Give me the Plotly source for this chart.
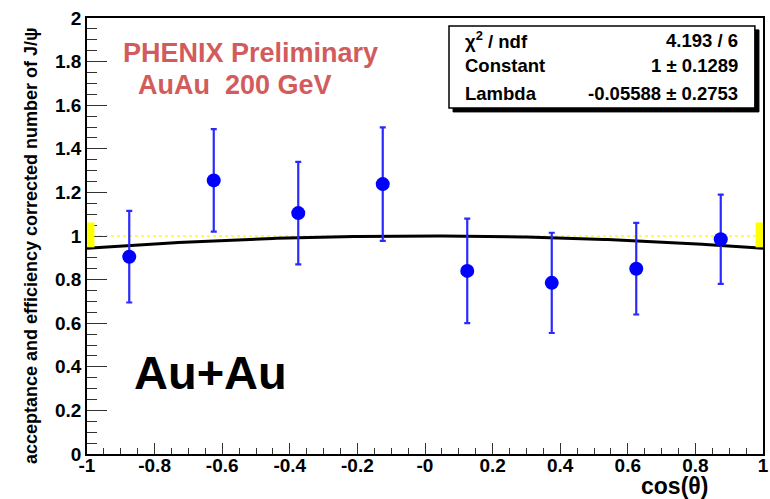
import numpy as np
import plotly.graph_objects as go

# ---- data ----
cos_theta = [-0.875, -0.625, -0.375, -0.125, 0.125, 0.375, 0.625, 0.875]
counts = [0.905, 1.255, 1.105, 1.238, 0.840, 0.785, 0.850, 0.985]
errors = [0.210, 0.235, 0.235, 0.260, 0.240, 0.230, 0.210, 0.205]

fit_constant = 1.0
fit_lambda = -0.05588
norm_band = [0.948, 1.062]  # normalisation uncertainty box (y range)

x_tickvals = [-1, -0.8, -0.6, -0.4, -0.2, 0, 0.2, 0.4, 0.6, 0.8, 1]
x_ticktext = ["-1", "-0.8", "-0.6", "-0.4", "-0.2", "-0", "0.2", "0.4", "0.6", "0.8", "1"]
y_tickvals = [0, 0.2, 0.4, 0.6, 0.8, 1, 1.2, 1.4, 1.6, 1.8, 2]
y_ticktext = ["0", "0.2", "0.4", "0.6", "0.8", "1", "1.2", "1.4", "1.6", "1.8", "2"]

stats_labels = ["χ<sup>2</sup> / ndf", "Constant", "Lambda"]
stats_values = ["4.193 / 6", "1 ± 0.1289", "-0.05588 ± 0.2753"]

FONT = "Liberation Sans, Arial, Helvetica, sans-serif"

fig = go.Figure()

# yellow dotted reference line at 1
fig.add_trace(go.Scatter(x=[-1, 1], y=[1, 1], mode="lines",
                         line=dict(color="#ffff00", width=1.5, dash="dot"),
                         hoverinfo="skip", showlegend=False))

# fit curve C*(1+lambda*x^2)
xf = np.linspace(-1, 1, 201)
yf = fit_constant * (1 + fit_lambda * xf ** 2)
fig.add_trace(go.Scatter(x=xf, y=yf, mode="lines",
                         line=dict(color="black", width=3),
                         hoverinfo="skip", showlegend=False))

# data points
fig.add_trace(go.Scatter(x=cos_theta, y=counts, mode="markers",
                         marker=dict(color="#0000ff", size=14, symbol="circle"),
                         error_y=dict(type="data", array=errors, color="#2a2aff",
                                      thickness=2.2, width=3),
                         showlegend=False))

# normalisation boxes at both edges
for x0, x1 in [(-1, -0.978), (0.978, 1)]:
    fig.add_shape(type="rect", xref="x", yref="y", x0=x0, x1=x1,
                  y0=norm_band[0], y1=norm_band[1],
                  fillcolor="#ffff00", line=dict(width=0), layer="above")

# stats box with shadow
bx0, bx1, by0, by1 = 0.5355, 0.988, 0.7936, 0.9817
fig.add_shape(type="rect", xref="paper", yref="paper",
              x0=bx0 + 0.006, x1=bx1 + 0.006, y0=by0 - 0.009, y1=by1 - 0.009,
              fillcolor="black", line=dict(color="black", width=1))
fig.add_shape(type="rect", xref="paper", yref="paper",
              x0=bx0, x1=bx1, y0=by0, y1=by1,
              fillcolor="white", line=dict(color="black", width=1.5))

row_y = [0.9495, 0.8922, 0.8257]
for lab, val, yy in zip(stats_labels, stats_values, row_y):
    fig.add_annotation(x=0.556, y=yy, xref="paper", yref="paper", text="<b>" + lab + "</b>",
                       showarrow=False, xanchor="left", yanchor="middle",
                       font=dict(family=FONT, size=18.5, color="black"))
    fig.add_annotation(x=0.966, y=yy, xref="paper", yref="paper", text="<b>" + val + "</b>",
                       showarrow=False, xanchor="right", yanchor="middle",
                       font=dict(family=FONT, size=18.5, color="black"))

# text labels
fig.add_annotation(x=0.051, y=0.9197, xref="paper", yref="paper",
                   text="<b>PHENIX Preliminary</b>", showarrow=False,
                   xanchor="left", yanchor="middle",
                   font=dict(family=FONT, size=27, color="#d25c5c"))
fig.add_annotation(x=0.073, y=0.846, xref="paper", yref="paper",
                   text="<b>AuAu  200 GeV</b>", showarrow=False,
                   xanchor="left", yanchor="middle",
                   font=dict(family=FONT, size=27, color="#d25c5c"))
fig.add_annotation(x=0.066, y=0.188, xref="paper", yref="paper",
                   text="<b>Au+Au</b>", showarrow=False,
                   xanchor="left", yanchor="middle",
                   font=dict(family=FONT, size=47, color="black"))

# axis titles
fig.add_annotation(x=-0.0828, y=0.477, xref="paper", yref="paper",
                   text="<b>acceptance and efficiency corrected number of J/ψ</b>",
                   textangle=-90, showarrow=False, xanchor="center", yanchor="middle",
                   font=dict(family=FONT, size=18, color="black"))
fig.add_annotation(x=0.9216, y=-0.074, xref="paper", yref="paper",
                   text="<b>cos(θ)</b>", showarrow=False,
                   xanchor="right", yanchor="middle",
                   font=dict(family=FONT, size=23, color="black"))

fig.update_layout(
    width=770, height=499,
    margin=dict(l=87, r=7, t=18, b=45),
    paper_bgcolor="white", plot_bgcolor="white",
    font=dict(family=FONT, color="black"),
    showlegend=False,
)
fig.update_xaxes(range=[-1, 1], showgrid=False, zeroline=False, automargin=False,
                 showline=True, linecolor="black", linewidth=1.5, mirror=True,
                 ticks="inside", ticklen=11, tickwidth=1, tickcolor="#333",
                 tickvals=x_tickvals, ticktext=x_ticktext, ticklabeloverflow="allow",
                 ticklabelstandoff=-7,
                 tickfont=dict(family=FONT, size=19, color="black", weight="bold"),
                 minor=dict(ticks="inside", ticklen=6, dtick=0.05, tick0=0,
                            tickcolor="#333", tickwidth=1, showgrid=False))
fig.update_yaxes(range=[0, 2], showgrid=False, zeroline=False, automargin=False,
                 showline=True, linecolor="black", linewidth=1.5, mirror=True,
                 ticks="inside", ticklen=20, tickwidth=1, tickcolor="#333",
                 tickvals=y_tickvals, ticktext=y_ticktext, ticklabeloverflow="allow",
                 tickfont=dict(family=FONT, size=19, color="black", weight="bold"),
                 minor=dict(ticks="inside", ticklen=10, dtick=0.05, tick0=0,
                            tickcolor="#333", tickwidth=1, showgrid=False))

# remove the default 8px page margin so the figure fills the 770x499 window exactly
fig.write_html(
    "out.html",
    config={"displayModeBar": False},
    post_script="document.body.style.margin='0';document.documentElement.style.overflow='hidden';",
)
